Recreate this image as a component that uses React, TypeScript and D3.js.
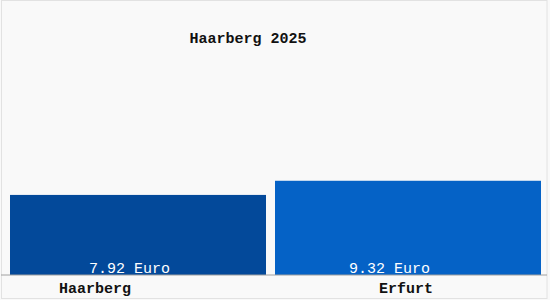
import React from "react";
import * as d3 from "d3";

const categories = ["Haarberg", "Erfurt"];
const values = [7.92, 9.32];
const valueLabels = ["7.92 Euro", "9.32 Euro"];
const title = "Haarberg 2025";

const W = 550;
const H = 300;
const barColors = ["#03499a", "#0562c6"];
const plotLeft = 10;
const plotRight = 541;
const catLabelShift = [-43, -2];
const valueLabelShift = [-8.5, -18.5];

export default function App() {
  const x = d3.scaleBand<string>().domain(categories).range([plotLeft, 531]).paddingInner(0.034);
  const y = d3.scaleLinear().domain([0, 27.2]).range([275, 0]);
  const font = "'Liberation Mono', 'DejaVu Sans Mono', monospace";
  const barW = (i: number) =>
    i === categories.length - 1 ? plotRight - (x(categories[i]) as number) : x.bandwidth();
  const barCenter = (i: number) => (x(categories[i]) as number) + barW(i) / 2;
  return (
    <svg
      width={W}
      height={H}
      style={{ position: "absolute", left: 0, top: 0, display: "block" }}
    >
      <rect x={0} y={0} width={W} height={H} fill="#f9f9f9" />
      <rect x={1.5} y={0.5} width={545.5} height={298} fill="none" stroke="#e2e2e2" />
      <text x={248} y={43} textAnchor="middle" fontFamily={font} fontSize={15} fontWeight="bold" fill="#111">
        {title}
      </text>
      {categories.map((c, i) => (
        <rect
          key={c}
          x={x(c)}
          y={y(values[i])}
          width={barW(i)}
          height={y(0) - y(values[i])}
          fill={barColors[i]}
        />
      ))}
      <line x1={1} x2={547} y1={275} y2={275} stroke="#a0a0a0" strokeWidth={1} />
      {categories.map((c, i) => (
        <text
          key={c + "v"}
          x={barCenter(i) + valueLabelShift[i]}
          y={273}
          textAnchor="middle"
          fontFamily={font}
          fontSize={15}
          fill="#ffffff"
        >
          {valueLabels[i]}
        </text>
      ))}
      {categories.map((c, i) => (
        <text
          key={c + "c"}
          x={barCenter(i) + catLabelShift[i]}
          y={293}
          textAnchor="middle"
          fontFamily={font}
          fontSize={15}
          fontWeight="bold"
          fill="#111"
        >
          {c}
        </text>
      ))}
    </svg>
  );
}
